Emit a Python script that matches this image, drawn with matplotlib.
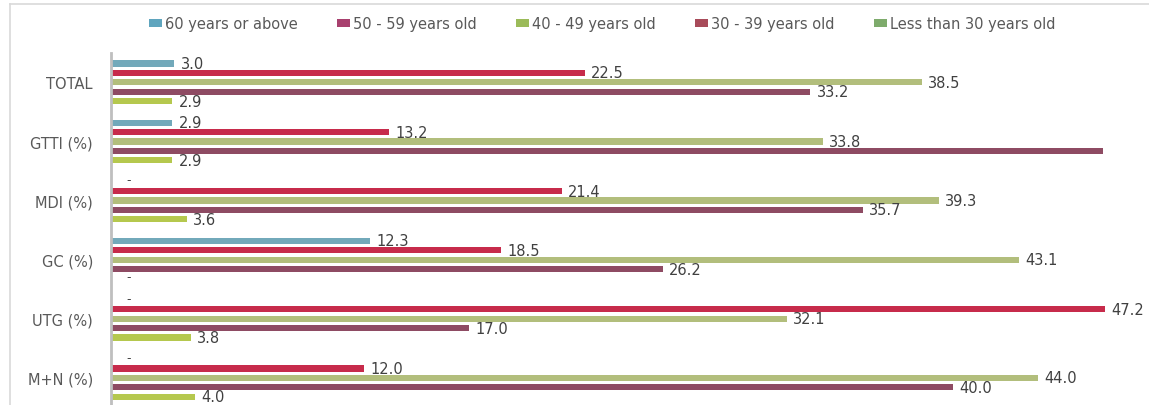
import matplotlib
matplotlib.use("Agg")
import matplotlib.pyplot as plt
from matplotlib.lines import Line2D
from matplotlib.patches import Patch

plt.rcParams['font.family'] = ['DejaVu Sans']

categories = ["TOTAL", "GTTI (%)", "MDI (%)", "GC (%)", "UTG (%)", "M+N (%)"]
series_names = ["60 years or above", "50 - 59 years old", "40 - 49 years old",
                "30 - 39 years old", "Less than 30 years old"]
v60 = [3.0, 2.9, 0.0, 12.3, 0.0, 0.0]
v50 = [22.5, 13.2, 21.4, 18.5, 47.2, 12.0]
v40 = [38.5, 33.8, 39.3, 43.1, 32.1, 44.0]
v30 = [33.2, 47.1, 35.7, 26.2, 17.0, 40.0]
vlt30 = [2.9, 2.9, 3.6, 0.0, 3.8, 4.0]
# labels shown on the chart (None = no label)
lab60 = ["3.0", "2.9", "-", "12.3", "-", "-"]
lab50 = ["22.5", "13.2", "21.4", "18.5", "47.2", "12.0"]
lab40 = ["38.5", "33.8", "39.3", "43.1", "32.1", "44.0"]
lab30 = ["33.2", None, "35.7", "26.2", "17.0", "40.0"]
lablt30 = ["2.9", "2.9", "3.6", "-", "3.8", "4.0"]

series = [v60, v50, v40, v30, vlt30]
labels = [lab60, lab50, lab40, lab30, lablt30]
bar_colors = ["#72A9BA", "#C72B4B", "#B2BE7C", "#8E4B63", "#B5C84E"]
legend_colors = ["#5FA5BE", "#A8406E", "#9BBB59", "#A84B5A", "#7EAB6C"]

W, H = 1149, 406
fig = plt.figure(figsize=(W / 100, H / 100), dpi=100)
ax_left, ax_right = 111 / W, 1143 / W
ax_top, ax_bottom = 1 - 54 / H, 0.0
ax = fig.add_axes([ax_left, ax_bottom, ax_right - ax_left, ax_top - ax_bottom])

pitch = 0.159
bh = 0.105
n = len(categories)
for j, (vals, labs, col) in enumerate(zip(series, labels, bar_colors)):
    ys = [i + (j - 2) * pitch for i in range(n)]
    ax.barh(ys, vals, height=bh, color=col, edgecolor="none")
    for y, v, lab in zip(ys, vals, labs):
        if lab is None:
            continue
        if lab == "-":
            ax.text(0.75, y - 0.03, "-", va="center", ha="left", fontsize=9, color="#404040")
        else:
            ax.text(v + 0.3, y, lab, va="center", ha="left", fontsize=10.5, color="#404040")

ax.set_xlim(0, 49)
ax.set_ylim(5.46, -0.496)
ax.set_yticks(range(n))
ax.set_yticklabels(categories, fontsize=10.5, color="#595959")
ax.tick_params(axis="y", length=0, pad=13)
ax.set_xticks([])
for s in ["top", "right", "bottom"]:
    ax.spines[s].set_visible(False)
ax.spines["left"].set_color("#BFBFBF")
ax.spines["left"].set_linewidth(2)

handles = [Patch(facecolor=c, edgecolor="none") for c in legend_colors]
fig.legend(handles, series_names, loc="center", bbox_to_anchor=(0.524, 1 - 25 / H),
           ncol=5, frameon=False, fontsize=10.5, handlelength=0.9, handleheight=0.5,
           handletextpad=0.2, columnspacing=2.7, labelcolor="#595959")

# outer frame remnants
fig.add_artist(Line2D([10 / W, 1], [1 - 5 / H, 1 - 5 / H], color="#D9D9D9", lw=1.2))
fig.add_artist(Line2D([10 / W, 10 / W], [0, 1 - 5 / H], color="#D9D9D9", lw=1.2))

fig.savefig("out.png", dpi=100)
